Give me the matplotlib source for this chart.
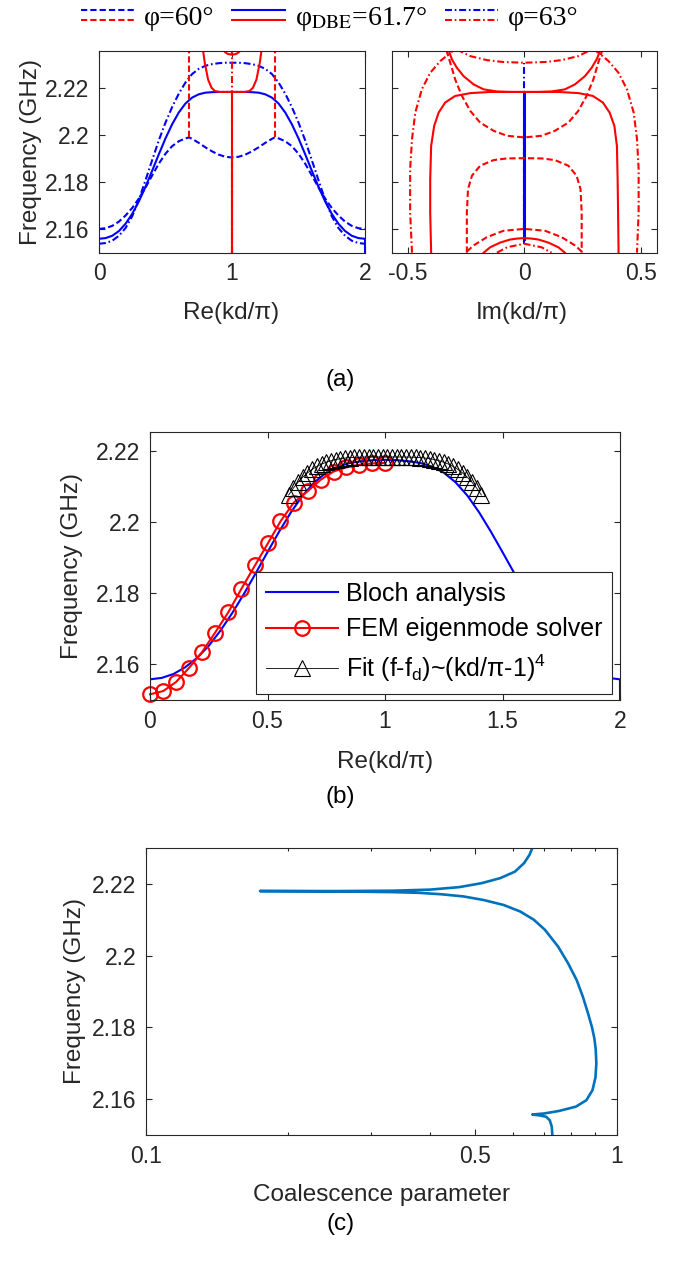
import matplotlib
matplotlib.use("Agg")
import matplotlib.pyplot as plt
from matplotlib.legend_handler import HandlerBase
from matplotlib.lines import Line2D

# ---------------- data ----------------
# (a) left: Re(kd/pi) dispersion
re_grid = [0.00, 0.05, 0.10, 0.15, 0.20, 0.25, 0.30, 0.35, 0.40, 0.45, 0.50, 0.55, 0.60, 0.65, 0.70,
           0.75, 0.80, 0.85, 0.90, 0.95, 1.00, 1.05, 1.10, 1.15, 1.20, 1.25, 1.30, 1.35, 1.40, 1.45,
           1.50, 1.55, 1.60, 1.65, 1.70, 1.75, 1.80, 1.85, 1.90, 1.95, 2.00]
re_x_dbe = [0.00] + re_grid + [2.00]
re_f_dbe = [2.1500, 2.1559, 2.1562, 2.1572, 2.1592, 2.1623, 2.1665, 2.1718, 2.1780, 2.1848, 2.1918,
            2.1985, 2.2045, 2.2095, 2.2133, 2.2158, 2.2172, 2.2179, 2.2181, 2.2182, 2.2182, 2.2182,
            2.2182, 2.2182, 2.2181, 2.2179, 2.2172, 2.2158, 2.2133, 2.2095, 2.2045, 2.1985, 2.1918,
            2.1848, 2.1780, 2.1718, 2.1665, 2.1623, 2.1592, 2.1572, 2.1562, 2.1559, 2.1500]
re_f_63 = [2.1538, 2.1541, 2.1551, 2.1572, 2.1605, 2.1655, 2.1725, 2.1808, 2.1893, 2.1977, 2.2052,
           2.2118, 2.2175, 2.2222, 2.2258, 2.2280, 2.2293, 2.2300, 2.2304, 2.2306, 2.2306, 2.2306,
           2.2304, 2.2300, 2.2293, 2.2280, 2.2258, 2.2222, 2.2175, 2.2118, 2.2052, 2.1977, 2.1893,
           2.1808, 2.1725, 2.1655, 2.1605, 2.1572, 2.1551, 2.1541, 2.1538]
re_x_60 = [0.00, 0.05, 0.10, 0.15, 0.20, 0.25, 0.30, 0.35, 0.40, 0.45, 0.50, 0.55, 0.60, 0.65, 0.678,
           0.70, 0.75, 0.80, 0.85, 0.90, 0.95, 1.00, 1.05, 1.10, 1.15, 1.20, 1.25, 1.30, 1.322, 1.35,
           1.40, 1.45, 1.50, 1.55, 1.60, 1.65, 1.70, 1.75, 1.80, 1.85, 1.90, 1.95, 2.00]
re_f_60 = [2.1601, 2.1604, 2.1614, 2.1632, 2.1658, 2.1690, 2.1730, 2.1777, 2.1828, 2.1878, 2.1920,
           2.1952, 2.1973, 2.1985, 2.1989, 2.1983, 2.1966, 2.1947, 2.1930, 2.1916, 2.1907, 2.1904,
           2.1907, 2.1916, 2.1930, 2.1947, 2.1966, 2.1983, 2.1989, 2.1985, 2.1973, 2.1952, 2.1920,
           2.1878, 2.1828, 2.1777, 2.1730, 2.1690, 2.1658, 2.1632, 2.1614, 2.1604, 2.1601]
# complex (red) branches in the Re plot
re_u_x = [0.782, 0.795, 0.820, 0.846, 0.871, 0.908, 1.000, 1.095, 1.132, 1.158, 1.184, 1.209, 1.222]
re_u_f = [2.2360, 2.2306, 2.2235, 2.2200, 2.2186, 2.2182, 2.2182, 2.2182, 2.2186, 2.2200, 2.2235,
          2.2306, 2.2360]
re_top_x = [0.930, 0.950, 0.970, 1.000, 1.030, 1.050, 1.070]
re_top_f = [2.2362, 2.2350, 2.2343, 2.2340, 2.2343, 2.2350, 2.2362]
re_gap_x = [1.0, 1.0]
re_gap_dbe_f = [2.1500, 2.2182]
re_gap_60_f = [2.1500, 2.1904]
re_gap_63_f = [2.1500, 2.2362]
re_side60_left_x = [0.678, 0.678]
re_side60_right_x = [1.322, 1.322]
re_side60_f = [2.1989, 2.2362]

# (a) right: Im(kd/pi)
im_zero_x = [0.0, 0.0]
im_blue_dbe_f = [2.1559, 2.2182]
im_blue_60_f = [2.1601, 2.1989]
im_blue_63_f = [2.1538, 2.2306]
im_dbe_u_x = [-0.324, -0.310, -0.289, -0.260, -0.217, -0.174, -0.117, -0.060, 0.000, 0.060, 0.117,
              0.174, 0.217, 0.260, 0.289, 0.310, 0.326]
im_dbe_u_f = [2.2359, 2.2320, 2.2285, 2.2249, 2.2214, 2.2193, 2.2184, 2.2182, 2.2182, 2.2182, 2.2184,
              2.2193, 2.2214, 2.2249, 2.2285, 2.2320, 2.2359]
im_dbe_arch_x = [-0.399, -0.403, -0.403, -0.399, -0.386, -0.367, -0.339, -0.296, -0.231, -0.146, 0.000,
                 0.147, 0.233, 0.294, 0.337, 0.366, 0.386, 0.397, 0.400, 0.402, 0.404]
im_dbe_arch_f = [2.1500, 2.1671, 2.1812, 2.1953, 2.2038, 2.2094, 2.2137, 2.2165, 2.2177, 2.2182, 2.2182,
                 2.2182, 2.2177, 2.2165, 2.2137, 2.2094, 2.2038, 2.1953, 2.1812, 2.1671, 2.1500]
im_dbe_low_x = [-0.174, -0.146, -0.103, -0.060, -0.030, 0.000, 0.030, 0.060, 0.103, 0.146, 0.174]
im_dbe_low_f = [2.1500, 2.1523, 2.1543, 2.1556, 2.1560, 2.1562, 2.1560, 2.1556, 2.1543, 2.1523, 2.1500]
im_60_u_x = [-0.334, -0.317, -0.296, -0.267, -0.231, -0.189, -0.131, -0.074, 0.000, 0.074, 0.131,
             0.189, 0.231, 0.267, 0.296, 0.317, 0.334]
im_60_u_f = [2.2359, 2.2306, 2.2235, 2.2165, 2.2101, 2.2052, 2.2017, 2.1996, 2.1989, 2.1996, 2.2017,
             2.2052, 2.2101, 2.2165, 2.2235, 2.2306, 2.2359]
im_60_arch_x = [-0.246, -0.246, -0.241, -0.224, -0.189, -0.131, -0.074, 0.000, 0.074, 0.131, 0.189,
                0.224, 0.241, 0.246, 0.246]
im_60_arch_f = [2.1500, 2.1671, 2.1770, 2.1827, 2.1869, 2.1893, 2.1900, 2.1901, 2.1900, 2.1893, 2.1869,
                2.1827, 2.1770, 2.1671, 2.1500]
im_60_low_x = [-0.246, -0.217, -0.160, -0.089, 0.000, 0.089, 0.160, 0.217, 0.246]
im_60_low_f = [2.1505, 2.1531, 2.1566, 2.1593, 2.1601, 2.1593, 2.1566, 2.1531, 2.1505]
im_63_outl_x = [-0.481, -0.489, -0.489, -0.481, -0.467, -0.439, -0.403, -0.360, -0.317, -0.296]
im_63_outl_f = [2.1500, 2.1671, 2.1855, 2.1982, 2.2094, 2.2193, 2.2263, 2.2313, 2.2348, 2.2362]
im_63_outr_x = [0.297, 0.319, 0.361, 0.404, 0.440, 0.469, 0.483, 0.490, 0.490, 0.483]
im_63_outr_f = [2.2362, 2.2348, 2.2313, 2.2263, 2.2193, 2.2094, 2.1982, 2.1855, 2.1671, 2.1500]
im_63_top_x = [-0.289, -0.231, -0.160, -0.089, 0.000, 0.089, 0.160, 0.231, 0.289]
im_63_top_f = [2.2362, 2.2334, 2.2317, 2.2309, 2.2306, 2.2309, 2.2317, 2.2334, 2.2362]
im_63_low_x = [-0.117, -0.074, 0.000, 0.074, 0.117]
im_63_low_f = [2.1500, 2.1523, 2.1538, 2.1523, 2.1500]

# (b)
bloch_x = [0.00] + re_grid + [2.00]
bloch_f = [2.1500, 2.1558, 2.1562, 2.1573, 2.1592, 2.1618, 2.1652, 2.1695, 2.1744, 2.1798, 2.1856,
           2.1915, 2.1973, 2.2027, 2.2074, 2.2111, 2.2138, 2.2155, 2.2165, 2.2170, 2.2173, 2.2174,
           2.2173, 2.2170, 2.2165, 2.2155, 2.2138, 2.2111, 2.2074, 2.2027, 2.1973, 2.1915, 2.1856,
           2.1798, 2.1744, 2.1695, 2.1652, 2.1618, 2.1592, 2.1573, 2.1562, 2.1558, 2.1500]
fem_x = [0.000, 0.056, 0.110, 0.166, 0.221, 0.276, 0.334, 0.389, 0.447, 0.502, 0.555, 0.612, 0.671,
         0.726, 0.781, 0.836, 0.891, 0.946, 1.000]
fem_f = [2.1516, 2.1525, 2.1550, 2.1590, 2.1634, 2.1688, 2.1747, 2.1812, 2.1878, 2.1940, 2.2001, 2.2054,
         2.2086, 2.2118, 2.2141, 2.2153, 2.2160, 2.2164, 2.2165]
fit_x = [0.59, 0.61, 0.63, 0.65, 0.67, 0.69, 0.71, 0.73, 0.75, 0.77, 0.79, 0.81, 0.83, 0.85, 0.87,
         0.89, 0.91, 0.93, 0.95, 0.97, 0.99, 1.01, 1.03, 1.05, 1.07, 1.09, 1.11, 1.13, 1.15, 1.17,
         1.19, 1.21, 1.23, 1.25, 1.27, 1.29, 1.31, 1.33, 1.35, 1.37, 1.39, 1.41]
fit_f = [2.20752, 2.20946, 2.21112, 2.21253, 2.21372, 2.21471, 2.21553, 2.21619, 2.21672, 2.21714,
         2.21746, 2.21771, 2.21788, 2.21801, 2.21809, 2.21814, 2.21818, 2.21819, 2.21820, 2.21820,
         2.21820, 2.21820, 2.21820, 2.21820, 2.21819, 2.21818, 2.21814, 2.21809, 2.21801, 2.21788,
         2.21771, 2.21746, 2.21714, 2.21672, 2.21619, 2.21553, 2.21471, 2.21372, 2.21253, 2.21112,
         2.20946, 2.20752]

# (c)
coal_x = [0.729, 0.727, 0.720, 0.707, 0.682, 0.661,
          0.700, 0.753, 0.818, 0.861, 0.887, 0.900, 0.904, 0.901, 0.895, 0.885, 0.868, 0.846,
          0.821, 0.787, 0.750, 0.703, 0.666, 0.623, 0.575, 0.521, 0.472, 0.424, 0.380, 0.335, 0.256,
          0.1746,
          0.256, 0.335, 0.401, 0.463, 0.516, 0.565, 0.607, 0.635, 0.652, 0.661]
coal_f = [2.1500, 2.1523, 2.1541, 2.1551, 2.1555, 2.1557,
          2.1560, 2.1567, 2.1579, 2.1597, 2.1625, 2.1660, 2.1700, 2.1740, 2.1770, 2.1800, 2.1839,
          2.1886, 2.1932, 2.1979, 2.2025, 2.2072, 2.2100, 2.2123, 2.2141, 2.2155, 2.2165, 2.2171, 2.2175,
          2.2177, 2.2179, 2.2180,
          2.2180, 2.2181, 2.2184, 2.2191, 2.2202, 2.2216, 2.2234, 2.2258, 2.2281, 2.2300]

freq_ticks = [2.16, 2.18, 2.20, 2.22]
freq_labels = ["2.16", "2.18", "2.2", "2.22"]
legend_top_labels = ["φ=60°", "φ$_{\\mathrm{DBE}}$=61.7°", "φ=63°"]
legend_b_labels = ["Bloch analysis", "FEM eigenmode solver", "Fit (f-f$_\\mathrm{d}$)~(kd/π-1)$^\\mathrm{4}$"]

# ---------------- style ----------------
plt.rcParams["font.family"] = ["Liberation Sans", "DejaVu Sans"]
plt.rcParams["mathtext.fontset"] = "custom"
plt.rcParams["mathtext.rm"] = "Liberation Sans"
plt.rcParams["mathtext.it"] = "Liberation Sans:italic"
plt.rcParams["lines.scale_dashes"] = False
plt.rcParams["lines.dashed_pattern"] = [4.5, 2.2]
plt.rcParams["lines.dashdot_pattern"] = [5.0, 2.0, 1.2, 2.0]

GRAY = "#262626"
TICK = 16.5
LAB = 17.5
LW = 1.5

fig = plt.figure(figsize=(6.81, 12.64), dpi=100)


def ax_at(l, t, r, b):
    return fig.add_axes([l / 681, 1 - b / 1264, (r - l) / 681, (b - t) / 1264])


def style(ax):
    for s in ax.spines.values():
        s.set_color(GRAY)
        s.set_linewidth(0.8)
    ax.tick_params(which="both", direction="in", top=True, right=True, width=0.8, color=GRAY,
                   labelcolor=GRAY, labelsize=TICK, pad=7)
    ax.tick_params(which="major", length=4)
    ax.tick_params(which="minor", length=2.5)


axA1 = ax_at(99, 50.7, 365, 252.7)
axA2 = ax_at(391.7, 50.7, 657.3, 252.7)
axB = ax_at(150, 432, 620, 700)
axC = ax_at(146, 848, 617, 1135)

# ---- (a) left ----
ax = axA1
bd, = ax.plot(re_x_60, re_f_60, color="b", lw=LW, ls="--")
bs, = ax.plot(re_x_dbe, re_f_dbe, color="b", lw=LW, ls="-")
bdd, = ax.plot(re_grid, re_f_63, color="b", lw=LW, ls="-.")
ax.plot(re_gap_x, re_gap_63_f, color="r", lw=LW, ls="-.")
rd, = ax.plot(re_gap_x, re_gap_60_f, color="r", lw=LW, ls="--")
ax.plot(re_side60_left_x, re_side60_f, color="r", lw=LW, ls="--")
ax.plot(re_side60_right_x, re_side60_f, color="r", lw=LW, ls="--")
rs, = ax.plot(re_gap_x, re_gap_dbe_f, color="r", lw=LW, ls="-")
ax.plot(re_u_x, re_u_f, color="r", lw=LW, ls="-")
ax.plot(re_top_x, re_top_f, color="r", lw=LW, ls="-")
rdd = Line2D([], [], color="r", lw=LW, ls="-.")
ax.set_xlim(0, 2)
ax.set_ylim(2.15, 2.2357)
ax.set_xticks([0, 1, 2], ["0", "1", "2"])
ax.set_yticks(freq_ticks, freq_labels)
style(ax)
ax.set_ylabel("Frequency (GHz)", fontsize=LAB, color=GRAY)
ax.yaxis.label.set_va("center")
ax.yaxis.set_label_coords(-0.256, 0.5)
ax.set_xlabel("Re(kd/π)", fontsize=LAB, color=GRAY)
ax.xaxis.label.set_va("center")
ax.xaxis.set_label_coords(0.495, -0.2985)

# ---- (a) right ----
ax = axA2
ax.plot(im_zero_x, im_blue_63_f, color="b", lw=LW, ls="-.")
ax.plot(im_zero_x, im_blue_dbe_f, color="b", lw=2.2, ls="-")
ax.plot(im_zero_x, im_blue_60_f, color="b", lw=LW, ls="--")
ax.plot(im_dbe_u_x, im_dbe_u_f, color="r", lw=LW, ls="-")
ax.plot(im_dbe_arch_x, im_dbe_arch_f, color="r", lw=LW, ls="-")
ax.plot(im_dbe_low_x, im_dbe_low_f, color="r", lw=LW, ls="-")
ax.plot(im_60_u_x, im_60_u_f, color="r", lw=LW, ls="--")
ax.plot(im_60_arch_x, im_60_arch_f, color="r", lw=LW, ls="--")
ax.plot(im_60_low_x, im_60_low_f, color="r", lw=LW, ls="--")
ax.plot(im_63_outl_x, im_63_outl_f, color="r", lw=LW, ls="-.")
ax.plot(im_63_outr_x, im_63_outr_f, color="r", lw=LW, ls="-.")
ax.plot(im_63_top_x, im_63_top_f, color="r", lw=LW, ls="-.")
ax.plot(im_63_low_x, im_63_low_f, color="r", lw=LW, ls="-.")
ax.set_xlim(-0.568, 0.57)
ax.set_ylim(2.15, 2.2357)
ax.set_xticks([-0.5, 0, 0.5], ["-0.5", "0", "0.5"])
ax.set_yticks(freq_ticks, [])
style(ax)
ax.set_xlabel("Im(kd/π)", fontsize=LAB, color=GRAY)
ax.xaxis.label.set_va("center")
ax.xaxis.set_label_coords(0.489, -0.2985)


class HandlerTwo(HandlerBase):
    def create_artists(self, legend, orig_handle, xdescent, ydescent, width, height, fontsize, trans):
        arts = []
        yc = height / 2 - ydescent
        for h, dy in zip(orig_handle, (3.7, -3.7)):
            ln = Line2D([-xdescent, -xdescent + width], [yc + dy, yc + dy])
            self.update_prop(ln, h, legend)
            ln.set_transform(trans)
            arts.append(ln)
        return arts


legT = fig.legend([(bd, rd), (bs, rs), (bdd, rdd)], legend_top_labels,
                  handler_map={tuple: HandlerTwo()}, ncol=3, loc="center",
                  bbox_to_anchor=(330 / 681, 1 - 19 / 1264), frameon=False,
                  prop={"family": "Liberation Serif", "size": 20}, handlelength=1.9,
                  handletextpad=0.35, columnspacing=0.65, borderpad=0)
for t in legT.get_texts():
    t.set_math_fontfamily("stix")

# ---- (b) ----
ax = axB
lb, = ax.plot(bloch_x, bloch_f, color="b", lw=LW)
lr, = ax.plot(fem_x, fem_f, color="r", lw=LW, marker="o", ms=10.5, mfc="none", mew=1.6, clip_on=False)
lt, = ax.plot(fit_x, fit_f, color="k", lw=0.6, marker="^", ms=11.5, mfc="none", mew=0.8)
ax.set_xlim(0, 2)
ax.set_ylim(2.15, 2.2252)
ax.set_xticks([0, 0.5, 1, 1.5, 2], ["0", "0.5", "1", "1.5", "2"])
ax.set_yticks(freq_ticks, freq_labels)
style(ax)
ax.set_ylabel("Frequency (GHz)", fontsize=LAB, color=GRAY)
ax.yaxis.label.set_va("center")
ax.yaxis.set_label_coords(-0.1666, 0.5)
ax.set_xlabel("Re(kd/π)", fontsize=LAB, color=GRAY)
ax.xaxis.label.set_va("center")
ax.xaxis.set_label_coords(0.5, -0.231)
legB = ax.legend([lb, lr, lt], legend_b_labels, loc="lower right", bbox_to_anchor=(0.983, 0.022),
                 fontsize=18, handlelength=2.9, handletextpad=0.3, borderpad=0.4, labelspacing=0.45,
                 fancybox=False, edgecolor=GRAY, framealpha=1, borderaxespad=0)
legB.get_frame().set_linewidth(0.8)

# ---- (c) ----
ax = axC
ax.plot(coal_x, coal_f, color="#0072BD", lw=1.9)
ax.set_xscale("log")
ax.set_xlim(0.1, 1)
ax.set_ylim(2.15, 2.23)
ax.set_xticks([0.1, 0.5, 1], ["0.1", "0.5", "1"])
ax.set_xticks([0.2, 0.3, 0.4, 0.6, 0.7, 0.8, 0.9], [], minor=True)
ax.set_yticks(freq_ticks, freq_labels)
style(ax)
ax.set_ylabel("Frequency (GHz)", fontsize=LAB, color=GRAY)
ax.yaxis.label.set_va("center")
ax.yaxis.set_label_coords(-0.151, 0.5)
ax.set_xlabel("Coalescence parameter", fontsize=LAB, color=GRAY)
ax.xaxis.label.set_va("center")
ax.xaxis.set_label_coords(0.499, -0.209)

# panel tags
fig.text(340.5 / 681, 1 - 380 / 1264, "(a)", ha="center", va="center", fontsize=LAB, color="k")
fig.text(340.5 / 681, 1 - 797 / 1264, "(b)", ha="center", va="center", fontsize=LAB, color="k")
fig.text(340.5 / 681, 1 - 1224 / 1264, "(c)", ha="center", va="center", fontsize=LAB, color="k")

fig.savefig("out.png", dpi=100, facecolor="white")
